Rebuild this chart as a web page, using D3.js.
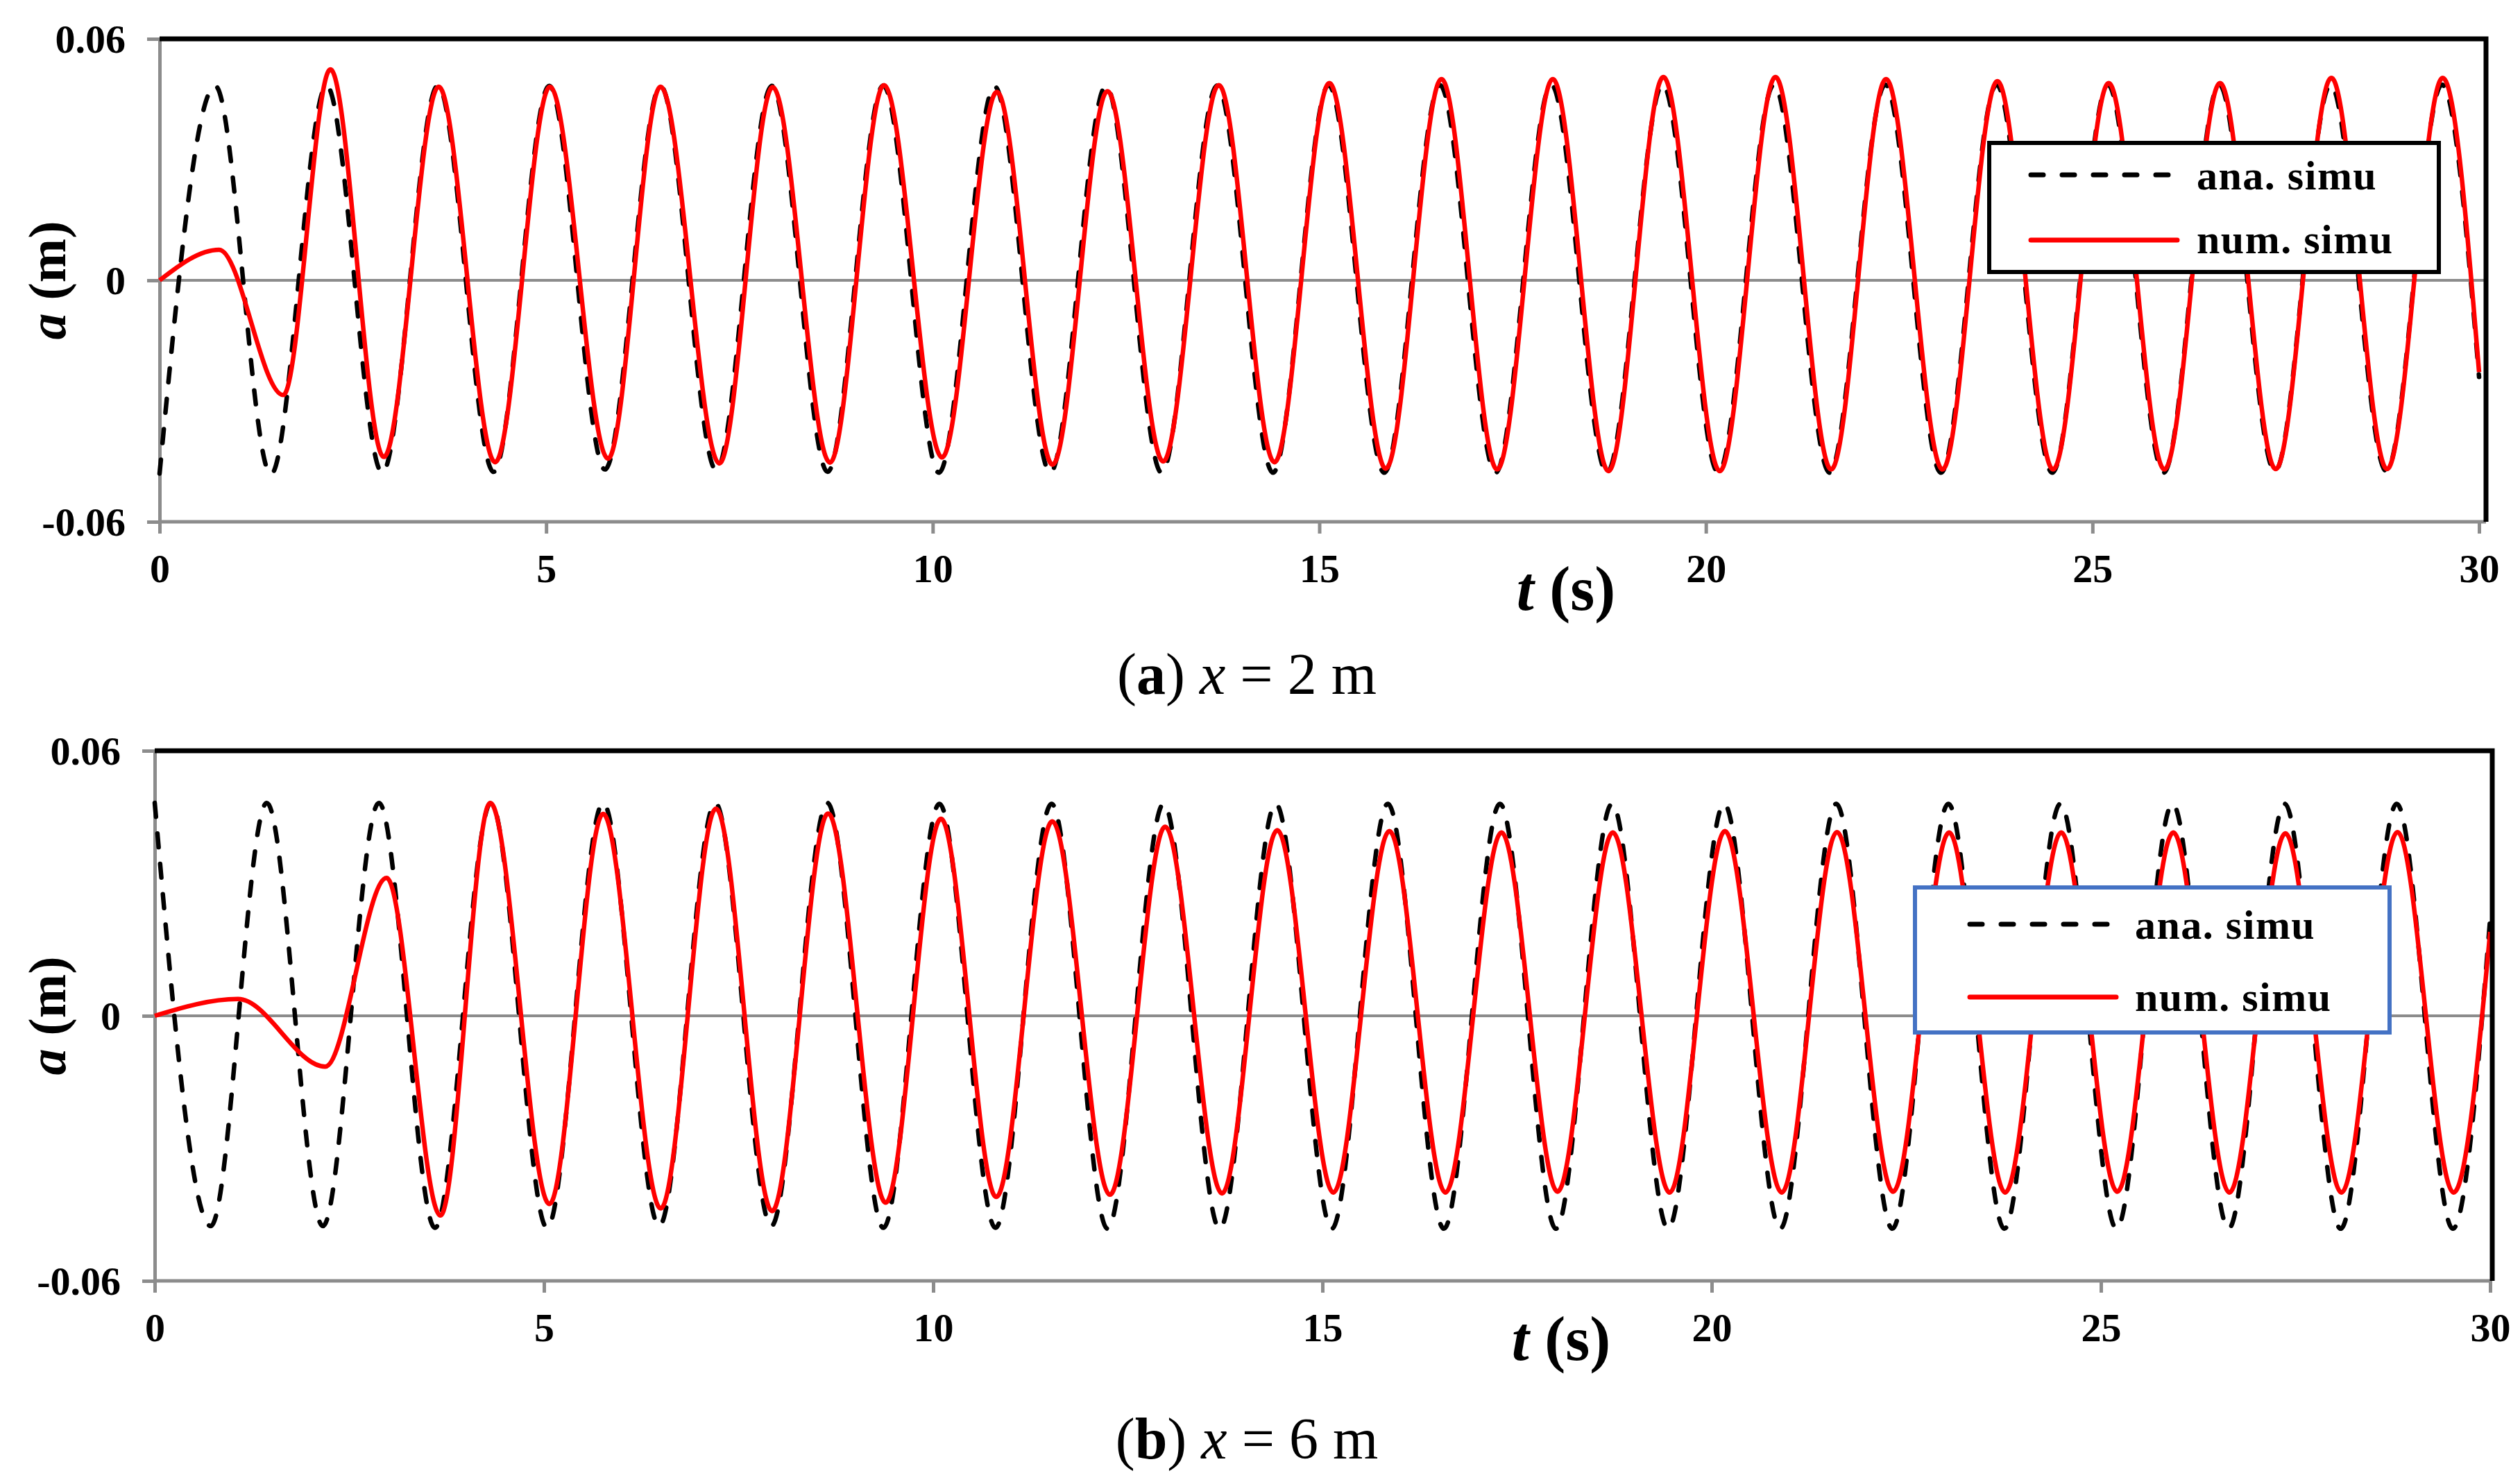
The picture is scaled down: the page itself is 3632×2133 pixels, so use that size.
<!DOCTYPE html>
<html>
<head>
<meta charset="utf-8">
<script src="https://cdn.jsdelivr.net/npm/d3@7"></script>
<style>
  html, body { margin: 0; padding: 0; background: #fff; }
  svg { display: block; }
  text { font-family: "Liberation Serif", "Times New Roman", serif; }
</style>
</head>
<body>
<svg id="chart" width="3632" height="2133"></svg>
<script>
// ---- data (extrema + end points, t in s, a in m) ----
const tTicks = [0, 5, 10, 15, 20, 25, 30];
const aTicks = [-0.06, 0, 0.06];
const seriesNames = ["ana. simu", "num. simu"];

// (a) x = 2 m
const anaA = [
  [0, -0.0480], [0.72, 0.0483], [1.44, -0.0482], [2.16, 0.0484], [2.88, -0.0478], [3.60, 0.0484],
  [4.32, -0.0476], [5.04, 0.0483], [5.76, -0.0470], [6.48, 0.0483], [7.20, -0.0472], [7.92, 0.0483],
  [8.64, -0.0476], [9.36, 0.0484], [10.08, -0.0478], [10.80, 0.0482], [11.52, -0.0478], [12.24, 0.0483],
  [12.96, -0.0478], [13.68, 0.0484], [14.40, -0.0478], [15.12, 0.0485], [15.84, -0.0478], [16.56, 0.0485],
  [17.28, -0.0478], [18.00, 0.0486], [18.72, -0.0478], [19.44, 0.0486], [20.16, -0.0478], [20.88, 0.0486],
  [21.60, -0.0478], [22.32, 0.0486], [23.04, -0.0478], [23.76, 0.0486], [24.48, -0.0478], [25.20, 0.0486],
  [25.92, -0.0478], [26.64, 0.0486], [27.36, -0.0475], [28.08, 0.0486], [28.80, -0.0474], [29.52, 0.0486],
  [30, -0.0240]
];
const numA = [
  [0, 0], [0.77, 0.0076], [1.60, -0.0285], [2.21, 0.0524], [2.90, -0.0439], [3.61, 0.0481],
  [4.34, -0.0452], [5.05, 0.0481], [5.80, -0.0443], [6.48, 0.0481], [7.24, -0.0455], [7.93, 0.0480],
  [8.67, -0.0453], [9.37, 0.0485], [10.12, -0.0440], [10.83, 0.0468], [11.55, -0.0458], [12.26, 0.0470],
  [12.98, -0.0450], [13.70, 0.0485], [14.42, -0.0452], [15.13, 0.0490], [15.86, -0.0468], [16.58, 0.0500],
  [17.30, -0.0470], [18.02, 0.0500], [18.74, -0.0474], [19.45, 0.0505], [20.18, -0.0474], [20.90, 0.0505],
  [21.62, -0.0470], [22.33, 0.0500], [23.06, -0.0470], [23.77, 0.0495], [24.49, -0.0470], [25.21, 0.0490],
  [25.93, -0.0470], [26.65, 0.0490], [27.37, -0.0469], [28.09, 0.0503], [28.81, -0.0469], [29.53, 0.0503],
  [30, -0.0228]
];

// (b) x = 6 m
const anaB = [
  [0, 0.0482], [0.72, -0.0476], [1.44, 0.0482], [2.16, -0.0476], [2.88, 0.0482], [3.60, -0.0480],
  [4.32, 0.0482], [5.04, -0.0480], [5.76, 0.0482], [6.48, -0.0476], [7.20, 0.0482], [7.92, -0.0476],
  [8.64, 0.0482], [9.36, -0.0480], [10.08, 0.0480], [10.80, -0.0480], [11.52, 0.0480], [12.24, -0.0482],
  [12.96, 0.0480], [13.68, -0.0482], [14.40, 0.0480], [15.12, -0.0482], [15.84, 0.0480], [16.56, -0.0482],
  [17.28, 0.0480], [18.00, -0.0482], [18.72, 0.0480], [19.44, -0.0482], [20.16, 0.0480], [20.88, -0.0482],
  [21.60, 0.0480], [22.32, -0.0482], [23.04, 0.0480], [23.76, -0.0482], [24.48, 0.0480], [25.20, -0.0482],
  [25.92, 0.0480], [26.64, -0.0482], [27.36, 0.0480], [28.08, -0.0482], [28.80, 0.0480], [29.52, -0.0482],
  [30, 0.0220]
];
const numB = [
  [0, 0], [1.07, 0.0038], [2.19, -0.0115], [2.98, 0.0312], [3.67, -0.0452], [4.31, 0.0482],
  [5.07, -0.0426], [5.76, 0.0457], [6.50, -0.0436], [7.21, 0.0469], [7.93, -0.0442], [8.65, 0.0458],
  [9.39, -0.0423], [10.10, 0.0446], [10.81, -0.0410], [11.53, 0.0440], [12.27, -0.0405], [12.98, 0.0428],
  [13.71, -0.0402], [14.42, 0.0420], [15.14, -0.0400], [15.86, 0.0418], [16.58, -0.0400], [17.30, 0.0415],
  [18.02, -0.0398], [18.73, 0.0415], [19.46, -0.0400], [20.17, 0.0418], [20.90, -0.0400], [21.61, 0.0416],
  [22.33, -0.0398], [23.05, 0.0415], [23.77, -0.0400], [24.49, 0.0415], [25.21, -0.0398], [25.93, 0.0415],
  [26.65, -0.0400], [27.37, 0.0413], [28.09, -0.0400], [28.81, 0.0416], [29.53, -0.0400], [30, 0.0190]
];

// ---- layout (pixels) ----
const panels = [
  {
    ana: anaA, num: numA, caption: ["a", "2"],
    x0: 230, x1: 3573, right: 3583, yTop: 56, yBot: 752,
    tLabel: {x: 2257, y: 879}, aLabel: {x: 94, y: 404}, capY: 1000,
    legend: {x: 2867, y: 206, w: 648, h: 186, stroke: "#000", lx0: 2927, lx1: 3138, tx: 3166, y1: 252, y2: 346, b1: 273, b2: 365}
  },
  {
    ana: anaB, num: numB, caption: ["b", "6"],
    x0: 223, x1: 3589, right: 3592, yTop: 1082, yBot: 1846,
    tLabel: {x: 2250, y: 1960}, aLabel: {x: 94, y: 1464}, capY: 2102,
    legend: {x: 2760, y: 1279, w: 684, h: 209, stroke: "#4472C4", lx0: 2839, lx1: 3050, tx: 3077, y1: 1332, y2: 1437, b1: 1353, b2: 1457}
  }
];

const svg = d3.select("#chart");
svg.append("rect").attr("width", 3632).attr("height", 2133).attr("fill", "#fff");

const AXIS_GRAY = "#8c8c8c";

panels.forEach((p) => {
  const x = d3.scaleLinear().domain([0, 30]).range([p.x0, p.x1]);
  const y = d3.scaleLinear().domain([-0.06, 0.06]).range([p.yBot, p.yTop]);
  const g = svg.append("g");

  // zero line
  g.append("line")
    .attr("x1", p.x0).attr("x2", p.right)
    .attr("y1", y(0)).attr("y2", y(0))
    .attr("stroke", AXIS_GRAY).attr("stroke-width", 4);

  // x axis
  const xAxis = g.append("g")
    .attr("transform", `translate(0,${p.yBot})`)
    .call(d3.axisBottom(x).tickValues(tTicks).tickSize(17).tickSizeOuter(0).tickFormat(d3.format("d")));
  xAxis.select(".domain").attr("stroke", AXIS_GRAY).attr("stroke-width", 5)
    .attr("d", `M${p.x0},0H${p.right}`);
  xAxis.selectAll(".tick line").attr("stroke", AXIS_GRAY).attr("stroke-width", 5);
  xAxis.selectAll(".tick text")
    .attr("y", 87).attr("dy", 0)
    .attr("font-size", 58).attr("font-weight", "bold").attr("fill", "#000")
    .style("font-family", "'Liberation Serif', 'Times New Roman', serif");

  // y axis
  const yAxis = g.append("g")
    .attr("transform", `translate(${p.x0},0)`)
    .call(d3.axisLeft(y).tickValues(aTicks).tickSize(18).tickSizeOuter(0)
      .tickFormat((d) => (d === 0 ? "0" : d.toFixed(2))));
  yAxis.select(".domain").attr("stroke", AXIS_GRAY).attr("stroke-width", 5);
  yAxis.selectAll(".tick line").attr("stroke", AXIS_GRAY).attr("stroke-width", 5);
  yAxis.selectAll(".tick text")
    .attr("x", -49).attr("dy", "0.33em")
    .attr("font-size", 58).attr("font-weight", "bold").attr("fill", "#000")
    .style("font-family", "'Liberation Serif', 'Times New Roman', serif");

  // curves
  const line = d3.line()
    .x((d) => x(d[0]))
    .y((d) => y(d[1]))
    .curve(d3.curveMonotoneX);

  g.append("path")
    .datum(p.ana)
    .attr("d", line)
    .attr("fill", "none")
    .attr("stroke", "#000")
    .attr("stroke-width", 6.5)
    .attr("stroke-linecap", "round")
    .attr("stroke-dasharray", "20,24");

  g.append("path")
    .datum(p.num)
    .attr("d", line)
    .attr("fill", "none")
    .attr("stroke", "#ff0000")
    .attr("stroke-width", 6.5)
    .attr("stroke-linejoin", "round");

  // frame: black top and right borders
  g.append("path")
    .attr("d", `M${p.x0},${p.yTop}H${p.right}V${p.yBot}`)
    .attr("fill", "none")
    .attr("stroke", "#000")
    .attr("stroke-width", 7);

  // legend
  const L = p.legend;
  const lg = g.append("g");
  lg.append("rect")
    .attr("x", L.x).attr("y", L.y).attr("width", L.w).attr("height", L.h)
    .attr("fill", "#fff").attr("stroke", L.stroke).attr("stroke-width", 6);
  lg.append("line")
    .attr("x1", L.lx0).attr("x2", L.lx1).attr("y1", L.y1).attr("y2", L.y1)
    .attr("stroke", "#000").attr("stroke-width", 7)
    .attr("stroke-linecap", "round").attr("stroke-dasharray", "18,27");
  lg.append("line")
    .attr("x1", L.lx0).attr("x2", L.lx1).attr("y1", L.y2).attr("y2", L.y2)
    .attr("stroke", "#ff0000").attr("stroke-width", 7).attr("stroke-linecap", "round");
  [[seriesNames[0], L.b1], [seriesNames[1], L.b2]].forEach(([name, by]) => {
    lg.append("text")
      .attr("x", L.tx).attr("y", by)
      .attr("font-size", 60).attr("font-weight", "bold")
      .attr("letter-spacing", 1.5)
      .text(name);
  });

  // axis titles
  const tt = g.append("text")
    .attr("x", p.tLabel.x).attr("y", p.tLabel.y)
    .attr("text-anchor", "middle")
    .attr("font-size", 90).attr("font-weight", "bold");
  tt.append("tspan").attr("font-style", "italic").text("t");
  tt.append("tspan").text(" (s)");

  const at = g.append("text")
    .attr("transform", `translate(${p.aLabel.x},${p.aLabel.y}) rotate(-90)`)
    .attr("text-anchor", "middle")
    .attr("font-size", 76).attr("font-weight", "bold");
  at.append("tspan").attr("font-style", "italic").text("a");
  at.append("tspan").text(" (m)");

  // caption
  const cap = g.append("text")
    .attr("x", 1797).attr("y", p.capY)
    .attr("text-anchor", "middle")
    .attr("font-size", 84);
  cap.append("tspan").text("(");
  cap.append("tspan").attr("font-weight", "bold").text(p.caption[0]);
  cap.append("tspan").text(") ");
  cap.append("tspan").attr("font-style", "italic").text("x");
  cap.append("tspan").text(` = ${p.caption[1]} m`);
});
</script>
</body>
</html>
